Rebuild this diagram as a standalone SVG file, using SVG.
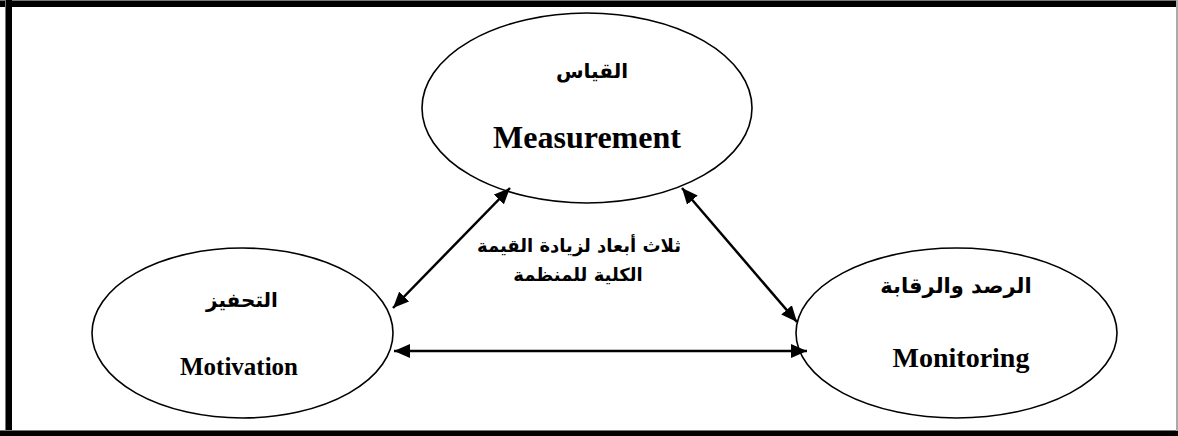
<svg xmlns="http://www.w3.org/2000/svg" width="1178" height="436" viewBox="0 0 1178 436">
<style>
.node ellipse{fill:#fff;stroke:#000;stroke-width:1.6}
.en{font-family:"Liberation Serif","Times New Roman",serif;font-weight:bold;fill:#000;text-anchor:middle}
.ar{font-family:"DejaVu Sans","Noto Sans",sans-serif;font-weight:bold;fill:#000;text-anchor:middle}
.conn line{stroke:#000;stroke-width:2.5;marker-start:url(#ah);marker-end:url(#ah)}
</style>
<defs>
<marker id="ah" markerUnits="userSpaceOnUse" markerWidth="17" markerHeight="15" refX="16" refY="7" orient="auto-start-reverse" viewBox="0 0 17 14">
<path d="M0,0 L16,7 L0,14 z" fill="#000"/>
</marker>
</defs>
<rect x="0" y="0" width="1178" height="436" fill="#fff"/>
<g id="frame">
<rect x="0" y="0" width="1178" height="1" fill="#777"/>
<rect x="0" y="1" width="1178" height="6" fill="#000"/>
<rect x="5" y="0" width="1" height="436" fill="#777"/>
<rect x="6" y="0" width="6" height="436" fill="#000"/>
<rect x="0" y="430" width="1178" height="1" fill="#777"/>
<rect x="0" y="431" width="1178" height="5" fill="#000"/>
<rect x="1176" y="0" width="2" height="431" fill="#aaa"/>
</g>
<g id="measurement" class="node">
<ellipse cx="587" cy="108" rx="165" ry="95"/>
<text class="ar" x="592" y="78" font-size="20">القياس</text>
<text class="en" x="587" y="148" font-size="32">Measurement</text>
</g>
<g id="motivation" class="node">
<ellipse cx="242.5" cy="333" rx="150.5" ry="85"/>
<text class="ar" x="242" y="307" font-size="20">التحفيز</text>
<text class="en" x="239" y="375" font-size="25">Motivation</text>
</g>
<g id="monitoring" class="node">
<ellipse cx="956.5" cy="333" rx="160.5" ry="85"/>
<text class="ar" x="956" y="293" font-size="21">الرصد والرقابة</text>
<text class="en" x="961" y="367" font-size="28">Monitoring</text>
</g>
<g id="center-label">
<text class="ar" x="579" y="252" font-size="18">ثلاث أبعاد لزيادة القيمة</text>
<text class="ar" x="578" y="281" font-size="18">الكلية للمنظمة</text>
</g>
<g id="connectors" class="conn">
<line x1="510" y1="188" x2="393" y2="308"/>
<line x1="682" y1="188" x2="797" y2="322"/>
<line x1="394" y1="351" x2="807" y2="351"/>
</g>
</svg>
